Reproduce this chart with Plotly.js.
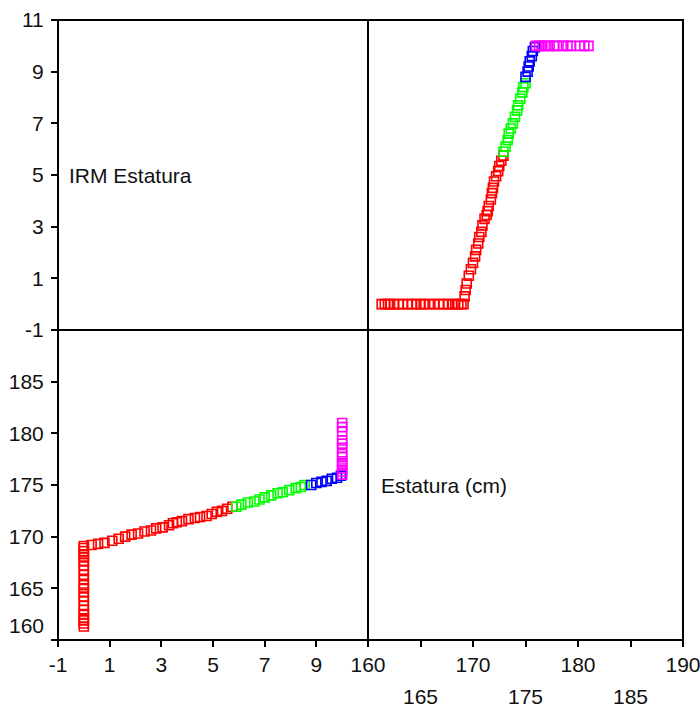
<!DOCTYPE html>
<html>
<head>
<meta charset="utf-8">
<script src="https://cdn.plot.ly/plotly-3.0.1.min.js"></script>
<style>html,body{margin:0;padding:0;background:#fff;}#chart{width:700px;height:713px;}</style>
</head>
<body>
<div id="chart"></div>
<script>
// Estatura (cm) and IRM values, grouped by marker colour
const redEst = [161.3,161.6,161.9,162.1,162.5,162.9,163.3,163.8,164.2,164.6,165.0,165.3,165.8,166.3,166.8,167.2,167.6,168.0,168.3,168.6,168.9,169.1,
                169.2,169.3,169.4,169.6,169.8,170.0,170.2,170.3,170.5,170.6,170.8,170.9,171.1,171.3,171.4,171.5,171.7,171.8,171.9,172.0,172.2,172.4,172.5,172.7,172.9];
const redIrm = [0,0,0,0,0,0,0,0,0,0,0,0,0,0,0,0,0,0,0,0,0,0,
                0.3,0.55,0.8,1.1,1.35,1.6,1.85,2.1,2.35,2.6,2.8,3.05,3.3,3.45,3.6,3.8,4.05,4.3,4.5,4.75,4.95,5.15,5.35,5.55,5.75];
const greenEst = [172.9,173.1,173.3,173.4,173.6,173.8,174.0,174.2,174.3,174.5,174.7,174.8,175.0];
const greenIrm = [5.9,6.1,6.35,6.6,6.8,7.0,7.25,7.5,7.7,7.95,8.2,8.4,8.55];
const blueEst = [175.0,175.2,175.3,175.4,175.6,175.7,175.9];
const blueIrm = [8.8,9.0,9.2,9.4,9.6,9.8,9.95];
const magentaEst = [176.0,176.3,176.6,177.0,177.3,177.7,178.0,178.6,179.0,179.3,180.2,180.6,181.0];
const magentaIrm = [10,10,10,10,10,10,10,10,10,10,10,10,10];

const irmTicks = [-1,1,3,5,7,9];
const irmTicksTop = [-1,1,3,5,7,9,11];
const estTicksX = [160,165,170,175,180,185,190];
const estTickTextX = ["160","","170","","180","","190"];
const estTicksXRow2 = [165,175,185];
const estTicksY = [160,165,170,175,180,185];
const estTickTextY = ["","165","170","175","180","185"];

const groups = [
  {est: redEst, irm: redIrm, color: "#ff0000"},
  {est: greenEst, irm: greenIrm, color: "#00ff00"},
  {est: blueEst, irm: blueIrm, color: "#0000ff"},
  {est: magentaEst, irm: magentaIrm, color: "#ff00ff"}
];

const FONT = "Liberation Sans, Arial, sans-serif";
const TXT = "#111111";
const traces = [];
groups.forEach(g => {
  const m = {symbol: "square-open", size: 9, color: g.color, line: {width: 1.6, color: g.color}};
  // top-right: x = Estatura, y = IRM
  traces.push({type: "scatter", mode: "markers", x: g.est, y: g.irm, xaxis: "x2", yaxis: "y2", marker: m, showlegend: false, hoverinfo: "skip", cliponaxis: false});
  // bottom-left: x = IRM, y = Estatura
  traces.push({type: "scatter", mode: "markers", x: g.irm, y: g.est, xaxis: "x", yaxis: "y", marker: m, showlegend: false, hoverinfo: "skip", cliponaxis: false});
});

const split = 310/625;
const common = {showgrid: false, zeroline: false, showline: false, ticks: "outside", ticklen: 6, tickwidth: 2, tickcolor: "#000",
  tickfont: {family: FONT, size: 21, color: TXT}, fixedrange: true, ticklabeloverflow: "allow"};

const annotations = [
  {text: "IRM Estatura", xref: "paper", x: 9/625, xanchor: "left", yref: "y2", y: 5, yanchor: "middle", showarrow: false,
   font: {family: FONT, size: 21, color: TXT}},
  {text: "Estatura (cm)", xref: "paper", x: 321/625, xanchor: "left", yref: "y", y: 175, yanchor: "middle", showarrow: false,
   font: {family: FONT, size: 21, color: TXT}},
  {text: "160", xref: "paper", x: 0, xanchor: "right", xshift: -12, yref: "y", y: 160, yanchor: "middle", yshift: 15, showarrow: false,
   font: {family: FONT, size: 21, color: TXT}}
];
estTicksXRow2.forEach(v => annotations.push({text: String(v), xref: "x2", x: v, xanchor: "center", yref: "paper", y: 0,
  yanchor: "middle", yshift: -56, showarrow: false, font: {family: FONT, size: 21, color: TXT}}));

const layout = {
  width: 700, height: 713,
  margin: {l: 58, r: 17, t: 20, b: 73},
  paper_bgcolor: "#fff", plot_bgcolor: "#fff",
  showlegend: false,
  xaxis: Object.assign({}, common, {domain: [0, split], range: [-1, 11], tickvals: irmTicks, ticktext: irmTicks.map(String), anchor: "y"}),
  xaxis2: Object.assign({}, common, {domain: [split, 1], range: [160, 190], tickvals: estTicksX, ticktext: estTickTextX, anchor: "y"}),
  yaxis: Object.assign({}, common, {domain: [0, 0.5], range: [160, 190], tickvals: estTicksY, ticktext: estTickTextY, anchor: "x", ticklabelstandoff: 3}),
  yaxis2: Object.assign({}, common, {domain: [0.5, 1], range: [-1, 11], tickvals: irmTicksTop, ticktext: irmTicksTop.map(String), anchor: "x", ticklabelstandoff: 3}),
  shapes: [
    {type: "rect", xref: "paper", yref: "paper", x0: 0, x1: 1, y0: 0, y1: 1, line: {color: "#000", width: 2}, layer: "above"},
    {type: "line", xref: "paper", yref: "paper", x0: split, x1: split, y0: 0, y1: 1, line: {color: "#000", width: 2}, layer: "above"},
    {type: "line", xref: "paper", yref: "paper", x0: 0, x1: 1, y0: 0.5, y1: 0.5, line: {color: "#000", width: 2}, layer: "above"}
  ],
  annotations: annotations
};

Plotly.newPlot("chart", traces, layout, {displayModeBar: false, staticPlot: true});
</script>
</body>
</html>
